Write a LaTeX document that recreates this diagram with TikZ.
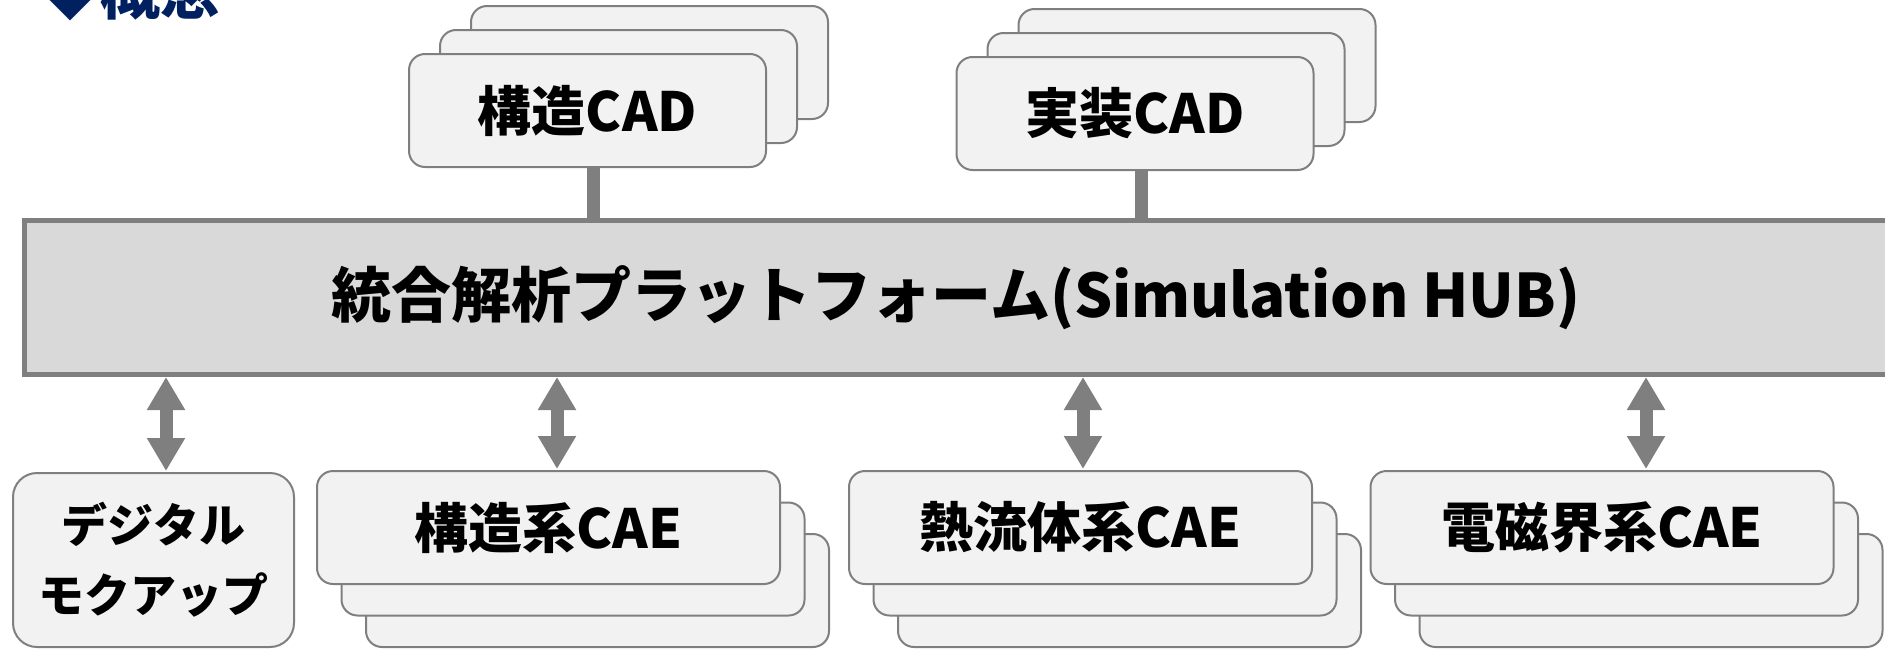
\documentclass[tikz,border=0pt]{standalone}
\usepackage{fontspec}
\setmainfont{Noto Sans CJK JP}
\usetikzlibrary{arrows.meta}
\definecolor{cardfill}{HTML}{F2F2F2}
\definecolor{hubfill}{HTML}{D9D9D9}
\definecolor{linegray}{HTML}{7F7F7F}
\definecolor{navy}{HTML}{002060}
\tikzset{
  card/.style={draw=linegray, line width=2pt, fill=cardfill, rounded corners=16pt,
    minimum height=113pt, inner sep=0pt, font=\fontsize{54}{66}\selectfont\bfseries},
  hubbar/.style={draw=linegray, line width=5pt, fill=hubfill, inner sep=0pt,
    minimum width=1863pt, minimum height=154pt, font=\fontsize{60}{72}\selectfont\bfseries},
  stem/.style={draw=linegray, line width=13pt},
  link/.style={draw=linegray, line width=13pt, shorten <=0pt, shorten >=1pt,
    {Triangle[width=36pt,length=33pt]}-{Triangle[width=36pt,length=33pt]}},
}
\begin{document}
\begin{tikzpicture}[x=1pt,y=-1pt]
\useasboundingbox (0,0) rectangle (1885,648);
\clip (0,0) rectangle (1885,648);

\node[anchor=base west, inner sep=0pt, text=navy, font=\fontsize{60}{72}\selectfont\bfseries] (title) at (40,14) {◆概念};

\foreach \i in {2,1}
\node[card, minimum width=357pt] (scad\i) at (587.5+31*\i,110.5-24*\i) {};
\foreach \i in {2,1}
\node[card, minimum width=357pt] (jcad\i) at (1135+31*\i,113.5-24*\i) {};
\node[card, minimum width=357pt] (scad) at (587.5,110.5) {構造CAD};
\node[card, minimum width=357pt] (jcad) at (1135,113.5) {実装CAD};

\node[hubbar] (hub) at (956,297.5) {\raisebox{-4pt}{統合解析プラットフォーム(Simulation HUB)}};

\draw[stem] ([xshift=6pt]scad.south) -- ([xshift=6pt]scad.south |- hub.north);
\draw[stem] ([xshift=6pt]jcad.south) -- ([xshift=6pt]jcad.south |- hub.north);

\foreach \x [count=\k] in {548.5,1080.5,1602}
\foreach \i in {2,1}
\node[card, minimum width=463pt] (cae\k\i) at (\x+24.5*\i,527.5+31.5*\i) {};
\node[card, minimum width=281pt, minimum height=174pt, rounded corners=24pt, align=center,
  font=\fontsize{46}{70}\selectfont\bfseries] (dmu) at (153.5,560) {\raisebox{-4pt}{デジタル}\\\raisebox{-4pt}{モクアップ}};
\node[card, minimum width=463pt] (scae) at (548.5,527.5) {\raisebox{-3pt}{構造系CAE}};
\node[card, minimum width=463pt] (tcae) at (1080.5,527.5) {\raisebox{-3pt}{熱流体系CAE}};
\node[card, minimum width=463pt] (ecae) at (1602,527.5) {\raisebox{-3pt}{電磁界系CAE}};

\draw[link] (hub.south -| 166,0) -- (dmu.north -| 166,0);
\draw[link] (hub.south -| 557,0) -- (scae.north -| 557,0);
\draw[link] (hub.south -| 1083,0) -- (tcae.north -| 1083,0);
\draw[link] (hub.south -| 1646,0) -- (ecae.north -| 1646,0);
\end{tikzpicture}
\end{document}
